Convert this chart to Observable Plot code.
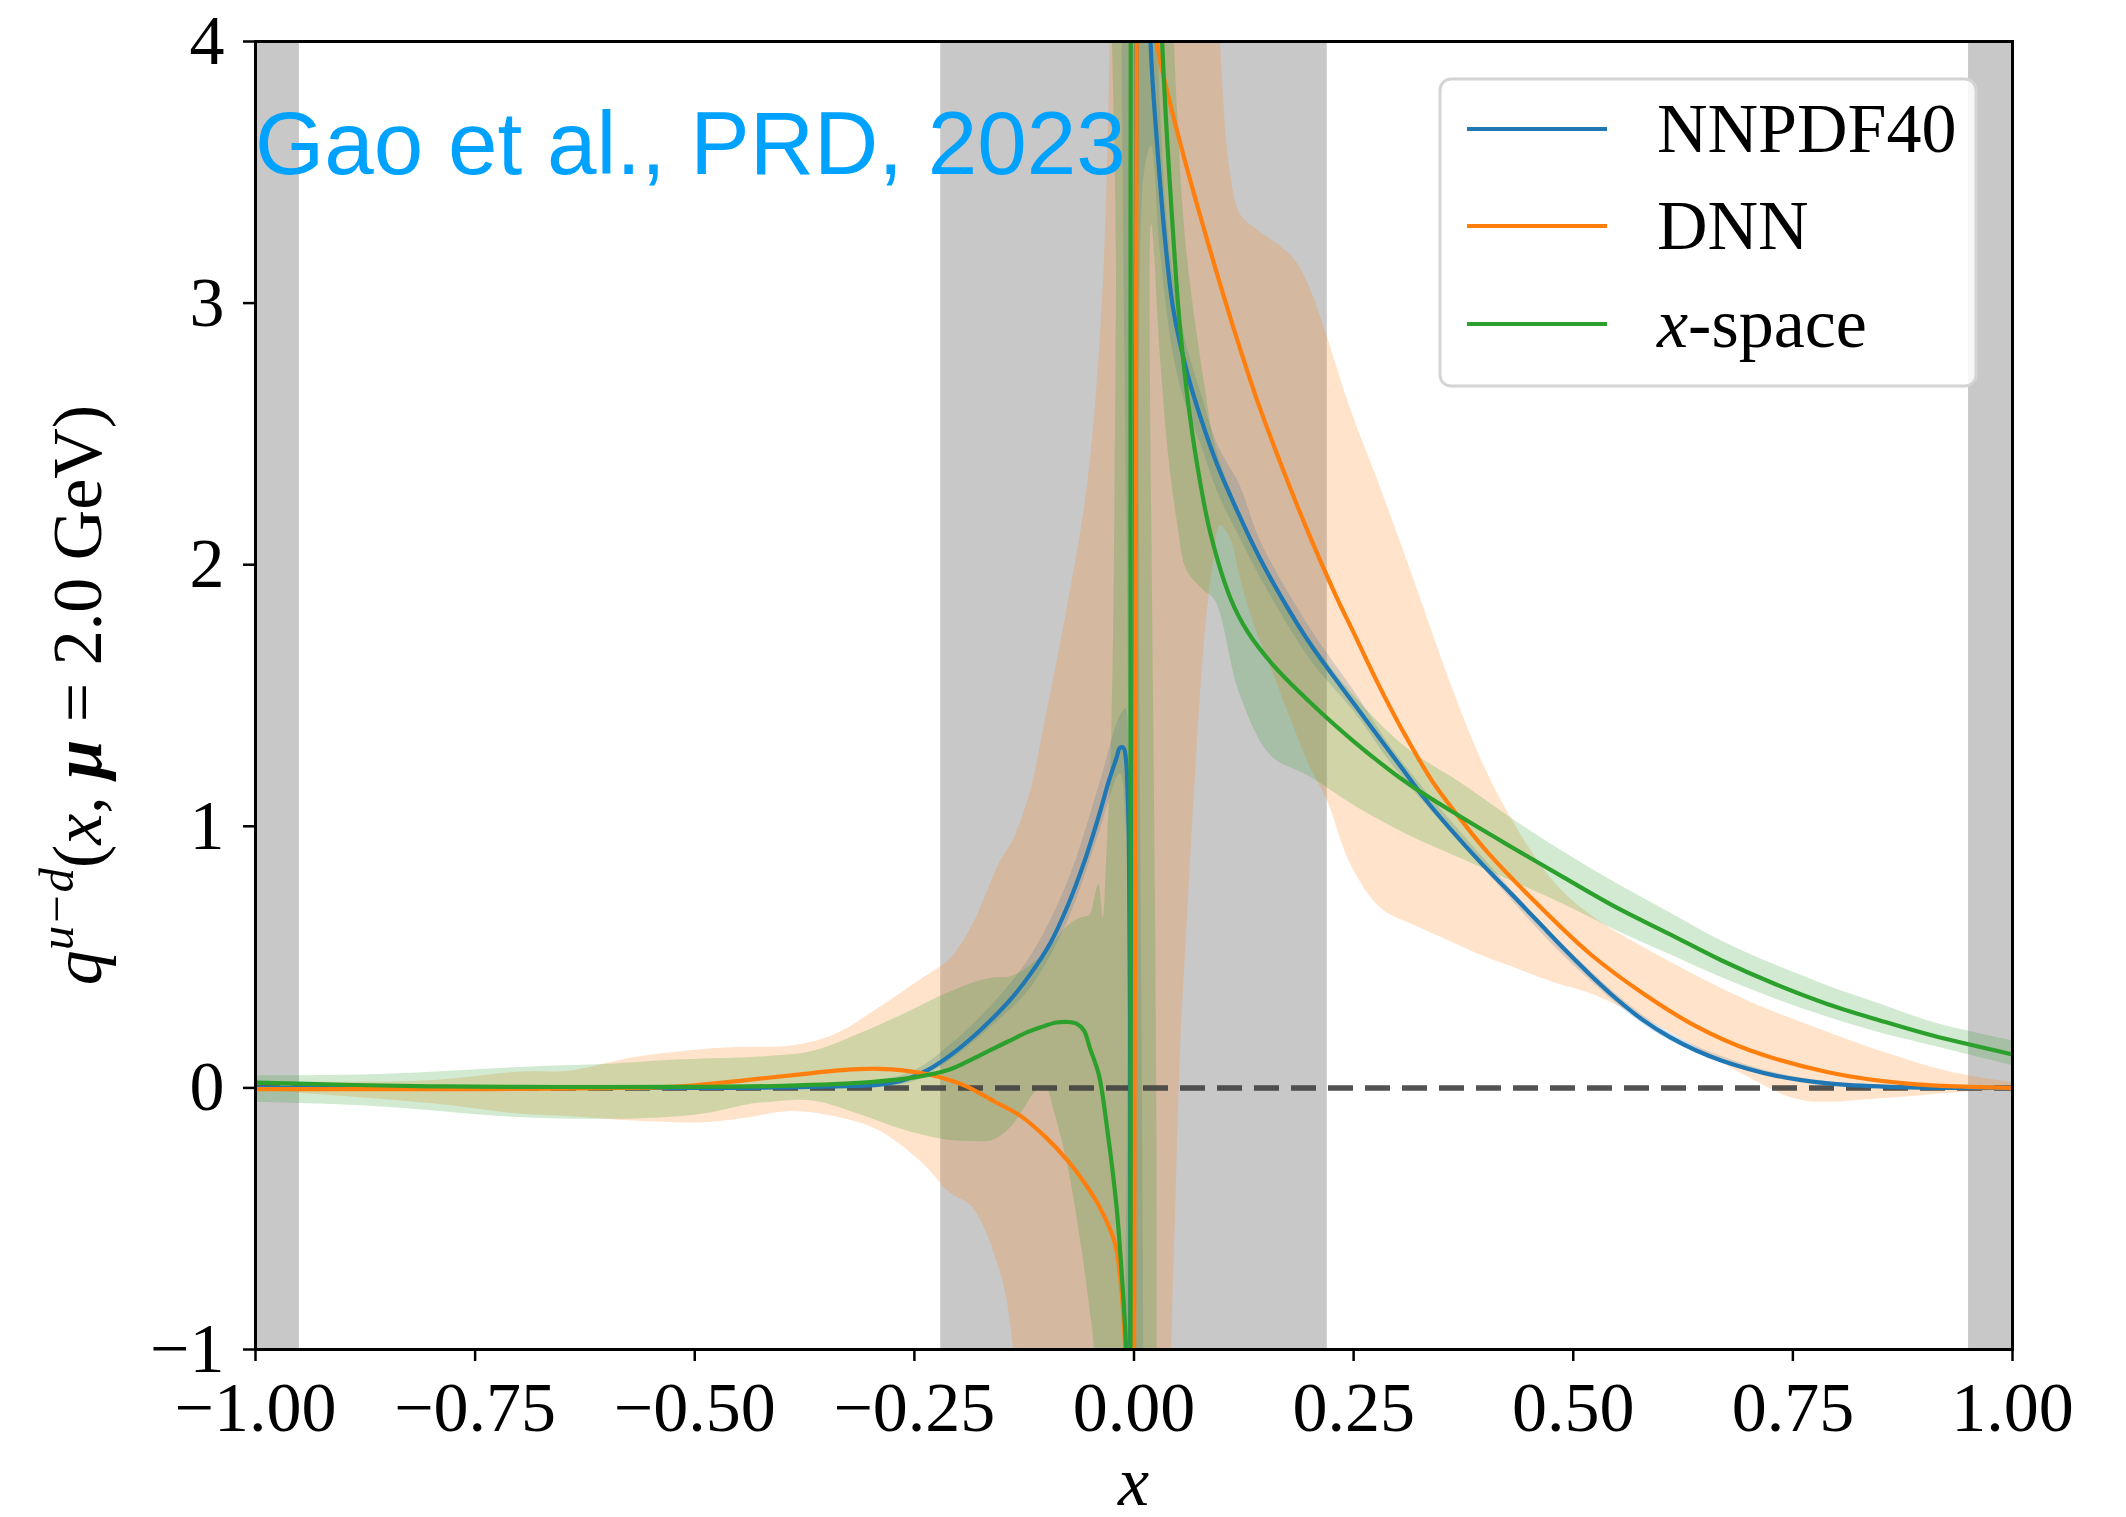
<!DOCTYPE html>
<html>
<head>
<meta charset="utf-8">
<script src="https://cdn.jsdelivr.net/npm/d3@7"></script>
<script src="https://cdn.jsdelivr.net/npm/@observablehq/plot@0.6"></script>
<style>
html, body { margin: 0; padding: 0; background: #fff; }
#chart { width: 2126px; height: 1517px; }
</style>
</head>
<body>
<div id="chart"></div>
<script>
// ---------- data ----------
const xTicks = [-1, -0.75, -0.5, -0.25, 0, 0.25, 0.5, 0.75, 1];
const yTicks = [-1, 0, 1, 2, 3, 4];

const seriesNames = ["NNPDF40", "DNN", "x-space"];
const seriesColors = ["#1f77b4", "#ff7f0e", "#2ca02c"];

// excluded regions (gray)
const grayX1 = [-1, -0.22, 0.95];
const grayX2 = [-0.95, 0.22, 1];

// NNPDF40 central curve
const nnpdfX = [-1, -0.9, -0.8, -0.6, -0.45, -0.38, -0.33, -0.29, -0.26, -0.235, -0.205, -0.18, -0.162, -0.14, -0.118, -0.095, -0.075, -0.057, -0.04, -0.028, -0.02, -0.016, -0.012, -0.0093, -0.0075, -0.0058, -0.0045, -0.003,
  0.008, 0.014, 0.0188, 0.026, 0.036, 0.045, 0.06, 0.076, 0.095, 0.121, 0.144, 0.167, 0.2, 0.25, 0.3, 0.33, 0.36, 0.395, 0.43, 0.46, 0.49, 0.52, 0.55, 0.58, 0.61, 0.64, 0.67, 0.73, 0.79, 0.86, 1.0];
const nnpdfY = [0, 0, 0, 0, 0, 0.003, 0.007, 0.012, 0.032, 0.068, 0.135, 0.205, 0.262, 0.34, 0.435, 0.555, 0.7, 0.86, 1.04, 1.18, 1.26, 1.3, 1.3, 1.26, 1.15, 0.95, 0.3, -3,
  9, 5.2, 4.0, 3.62, 3.22, 2.97, 2.74, 2.56, 2.38, 2.18, 2.02, 1.88, 1.70, 1.47, 1.245, 1.11, 0.99, 0.86, 0.74, 0.635, 0.53, 0.43, 0.338, 0.258, 0.194, 0.143, 0.103, 0.047, 0.017, 0.004, 0];

// DNN central curve
const dnnX = [-1, -0.9, -0.8, -0.7, -0.6, -0.543, -0.5, -0.441, -0.38, -0.34, -0.314, -0.29, -0.263, -0.235, -0.21, -0.19, -0.16, -0.13, -0.1, -0.075, -0.057, -0.04, -0.022, -0.015, -0.01, -0.006, -0.001,
  0.006, 0.015, 0.026, 0.0378, 0.0567, 0.0757, 0.0947, 0.1175, 0.14, 0.17, 0.2, 0.23, 0.25, 0.28, 0.31, 0.34, 0.37, 0.4, 0.46, 0.52, 0.58, 0.64, 0.7, 0.79, 0.88, 0.95, 1.0];
const dnnY = [-0.005, -0.005, -0.005, -0.004, -0.001, 0.002, 0.01, 0.03, 0.052, 0.066, 0.072, 0.073, 0.067, 0.052, 0.03, 0.005, -0.05, -0.105, -0.19, -0.28, -0.36, -0.45, -0.59, -0.75, -1.0, -1.6, -3,
  9, 5.5, 4.0, 3.81, 3.56, 3.33, 3.11, 2.86, 2.63, 2.36, 2.11, 1.88, 1.74, 1.53, 1.34, 1.17, 1.035, 0.91, 0.70, 0.51, 0.36, 0.235, 0.145, 0.06, 0.016, 0.004, 0];

// x-space central curve
const xsX = [-1, -0.9, -0.8, -0.7, -0.6, -0.5, -0.4, -0.3, -0.25, -0.21, -0.184, -0.16, -0.14, -0.12, -0.101, -0.088, -0.075, -0.065, -0.057, -0.05, -0.04, -0.03, -0.02, -0.015, -0.009, -0.006, -0.004,
  -0.001, 0.01, 0.02, 0.032, 0.0378, 0.045, 0.051, 0.0605, 0.072, 0.087, 0.11, 0.13, 0.16, 0.2, 0.25, 0.309, 0.37, 0.43, 0.489, 0.549, 0.609, 0.669, 0.729, 0.789, 0.849, 0.909, 1.0];
const xsY = [0.02, 0.012, 0.006, 0.004, 0.003, 0.004, 0.008, 0.022, 0.04, 0.07, 0.11, 0.15, 0.183, 0.215, 0.238, 0.25, 0.252, 0.245, 0.22, 0.15, 0.05, -0.17, -0.45, -0.66, -1.0, -1.6, -3,
  10, 7, 5.2, 4.0, 3.62, 3.24, 2.96, 2.65, 2.38, 2.12, 1.87, 1.74, 1.61, 1.475, 1.325, 1.17, 1.04, 0.92, 0.805, 0.69, 0.589, 0.487, 0.398, 0.321, 0.258, 0.2, 0.128];

// NNPDF40 uncertainty band
const nnpdfBandX  = [-1, -0.6, -0.35, -0.3, -0.25, -0.205, -0.162, -0.118, -0.075, -0.04, -0.016, -0.009, -0.006, -0.004, 0.0, 0.012, 0.02, 0.03, 0.045, 0.06, 0.076, 0.095, 0.121, 0.144, 0.2, 0.25, 0.3, 0.4, 0.5, 0.6, 0.7, 0.8, 1.0];
const nnpdfBandLo = [-0.01, -0.01, -0.005, 0.0, 0.025, 0.115, 0.235, 0.38, 0.64, 0.97, 1.2, 1.0, -3, -3, -3, 3.5, 3.6, 3.2, 2.8, 2.6, 2.46, 2.28, 2.1, 1.95, 1.64, 1.44, 1.21, 0.83, 0.47, 0.2, 0.065, 0.008, -0.005];
const nnpdfBandHi = [0.01, 0.01, 0.015, 0.025, 0.065, 0.175, 0.315, 0.5, 0.79, 1.15, 1.42, 1.45, 1.2, 6, 6, 6, 6, 3.75, 3.1, 2.84, 2.66, 2.46, 2.3, 2.09, 1.76, 1.52, 1.27, 0.87, 0.51, 0.23, 0.085, 0.02, 0.005];

// DNN uncertainty band
const dnnBandX  = [-1, -0.95, -0.8, -0.7, -0.64, -0.57, -0.49, -0.44, -0.39, -0.34, -0.29, -0.24, -0.21, -0.184, -0.153, -0.137, -0.118, -0.1, -0.075, -0.053, -0.036, -0.027, -0.02, 0.0, 0.035, 0.043, 0.048, 0.053, 0.06, 0.07, 0.08, 0.09, 0.0985, 0.11, 0.121, 0.136, 0.159, 0.182, 0.2, 0.22, 0.246, 0.28, 0.32, 0.36, 0.4, 0.44, 0.48, 0.52, 0.6, 0.7, 0.76, 0.85, 0.93, 1.0];
const dnnBandLo = [-0.008, -0.02, -0.06, -0.1, -0.11, -0.127, -0.133, -0.115, -0.09, -0.11, -0.164, -0.29, -0.4, -0.456, -0.694, -1.0, -3, -3, -3, -3, -3, -3, -3, -3, -3, -1.0, -0.4, 0.15, 0.6, 1.2, 1.7, 2.0, 2.15, 2.1, 1.95, 1.78, 1.58, 1.38, 1.23, 1.1, 0.86, 0.69, 0.62, 0.56, 0.5, 0.45, 0.4, 0.36, 0.23, 0.04, -0.048, -0.041, -0.02, -0.005];
const dnnBandHi = [0.012, 0.02, 0.027, 0.06, 0.065, 0.115, 0.147, 0.155, 0.16, 0.204, 0.306, 0.42, 0.49, 0.62, 0.86, 0.95, 1.13, 1.42, 1.85, 2.3, 3.0, 4.0, 6, 6, 6, 6, 6, 6, 6, 6, 6, 5, 4.0, 3.49, 3.34, 3.29, 3.235, 3.17, 3.06, 2.87, 2.6, 2.3, 1.93, 1.55, 1.22, 0.97, 0.78, 0.66, 0.5, 0.33, 0.25, 0.14, 0.06, 0.02];

// x-space uncertainty band
const xsBandX  = [-1.0, -0.87, -0.7, -0.6, -0.54, -0.49, -0.44, -0.416, -0.365, -0.314, -0.263, -0.22, -0.184, -0.16, -0.14, -0.125, -0.113, -0.1, -0.09, -0.075, -0.06, -0.05, -0.045, -0.04, -0.035, -0.031, -0.025, -0.02, -0.015, 0.0, 0.02, 0.03, 0.04, 0.05, 0.06, 0.08, 0.093, 0.121, 0.156, 0.2, 0.25, 0.31, 0.37, 0.43, 0.49, 0.55, 0.61, 0.67, 0.73, 0.79, 0.85, 0.91, 1.0];
const xsBandLo = [-0.056, -0.07, -0.113, -0.12, -0.115, -0.1, -0.065, -0.056, -0.05, -0.1, -0.16, -0.195, -0.205, -0.2, -0.15, -0.08, -0.02, 0.0, -0.1, -0.3, -0.6, -0.85, -1.0, -3, -3, -3, -3, -3, -3, -3, 3.3, 2.8, 2.4, 2.15, 1.98, 1.9, 1.86, 1.5, 1.27, 1.19, 1.08, 0.97, 0.88, 0.79, 0.7, 0.6, 0.51, 0.42, 0.34, 0.27, 0.21, 0.16, 0.085];
const xsBandHi = [0.046, 0.05, 0.078, 0.09, 0.103, 0.11, 0.115, 0.12, 0.14, 0.204, 0.28, 0.35, 0.4, 0.42, 0.425, 0.45, 0.48, 0.52, 0.56, 0.62, 0.65, 0.66, 0.72, 0.78, 0.65, 0.88, 1.4, 3, 6, 6, 6, 6, 4.6, 3.7, 3.2, 2.7, 2.45, 2.2, 1.95, 1.72, 1.5, 1.3, 1.17, 1.03, 0.9, 0.78, 0.67, 0.56, 0.47, 0.39, 0.32, 0.25, 0.18];

// ---------- tables ----------
const toLine = (xs, ys) => xs.map((x, i) => ({x, y: ys[i]}));
const toBand = (xs, lo, hi) => xs.map((x, i) => ({x, lo: lo[i], hi: hi[i]}));
const gray = grayX1.map((x1, i) => ({x1, x2: grayX2[i]}));

const lines = [toLine(nnpdfX, nnpdfY), toLine(dnnX, dnnY), toLine(xsX, xsY)];
const bands = [toBand(nnpdfBandX, nnpdfBandLo, nnpdfBandHi), toBand(dnnBandX, dnnBandLo, dnnBandHi), toBand(xsBandX, xsBandLo, xsBandHi)];

const W = 2126, H = 1517;
const mL = 255, mR = 114, mT = 41, mB = 168;
const serif = "'Liberation Serif', 'DejaVu Serif', serif";

const svg = Plot.plot({
  width: W, height: H,
  marginLeft: mL, marginRight: mR, marginTop: mT, marginBottom: mB,
  style: {fontFamily: serif, color: "black", background: "white", overflow: "visible"},
  x: {domain: [-1, 1], label: null},
  y: {domain: [-1, 4], label: null},
  marks: [
    Plot.rect(gray, {x1: "x1", x2: "x2", fill: "#c8c8c8"}),
    ...bands.map((b, i) => Plot.areaY(b, {x: "x", y1: "lo", y2: "hi", fill: seriesColors[i], fillOpacity: 0.22, curve: "catmull-rom", clip: true})),
    Plot.ruleY([0], {stroke: "#404040", strokeOpacity: 0.9, strokeWidth: 5.5, strokeDasharray: "25,12"}),
    ...lines.map((l, i) => Plot.line(l, {x: "x", y: "y", stroke: seriesColors[i], strokeWidth: 4.2, curve: "catmull-rom", clip: true})),
    Plot.axisX(xTicks, {tickSize: 12, tickPadding: 20, tickFormat: d3.format(".2f"), strokeWidth: 2.5, fontSize: 70, label: null}),
    Plot.axisY(yTicks, {tickSize: 12, tickPadding: 19, tickFormat: d3.format("d"), strokeWidth: 2.5, fontSize: 70, label: null}),
    Plot.frame({stroke: "black", strokeWidth: 3})
  ]
});

document.getElementById("chart").appendChild(svg);

const s = d3.select(svg);

// annotation
s.append("text")
  .attr("x", 255).attr("y", 174)
  .attr("text-anchor", "start")
  .attr("font-family", "'Liberation Sans', Arial, sans-serif")
  .attr("font-size", 89)
  .attr("fill", "#00A2FF")
  .text("Gao et al., PRD, 2023");

// legend
const lg = s.append("g").attr("text-anchor", "start");
lg.append("rect")
  .attr("x", 1440).attr("y", 79).attr("width", 536).attr("height", 307)
  .attr("rx", 11).attr("ry", 11)
  .attr("fill", "white").attr("fill-opacity", 0.85)
  .attr("stroke", "#d4d4d4").attr("stroke-width", 3);
const rowY = [129, 226, 324];
seriesNames.forEach((name, i) => {
  lg.append("line")
    .attr("x1", 1467).attr("x2", 1607).attr("y1", rowY[i]).attr("y2", rowY[i])
    .attr("stroke", seriesColors[i]).attr("stroke-width", 4.2);
  const t = lg.append("text")
    .attr("x", 1657).attr("y", rowY[i] + 23)
    .attr("text-anchor", "start")
    .attr("font-family", serif).attr("font-size", 70).attr("fill", "black");
  if (name === "x-space") {
    t.append("tspan").attr("font-style", "italic").text("x");
    t.append("tspan").text("-space");
  } else {
    t.text(name);
  }
});

// x-axis label
s.append("text")
  .attr("x", (mL + (W - mR)) / 2).attr("y", 1505)
  .attr("text-anchor", "middle")
  .attr("font-family", serif).attr("font-size", 70).attr("font-style", "italic")
  .text("x");

// y-axis label
const yl = s.append("text")
  .attr("transform", `translate(101, ${(mT + (H - mB)) / 2}) rotate(-90)`)
  .attr("text-anchor", "middle")
  .attr("font-family", serif).attr("font-size", 70).attr("fill", "black");
yl.append("tspan").attr("font-style", "italic").text("q");
yl.append("tspan").attr("font-style", "italic").attr("font-size", 49).attr("dy", -28).text("u\u2212d");
yl.append("tspan").attr("dy", 28).text("(");
yl.append("tspan").attr("font-style", "italic").text("x");
yl.append("tspan").text(", ");
yl.append("tspan").attr("font-style", "italic").attr("font-weight", "bold").text("\u03bc");
yl.append("tspan").text(" = 2.0 GeV)");
</script>
</body>
</html>
